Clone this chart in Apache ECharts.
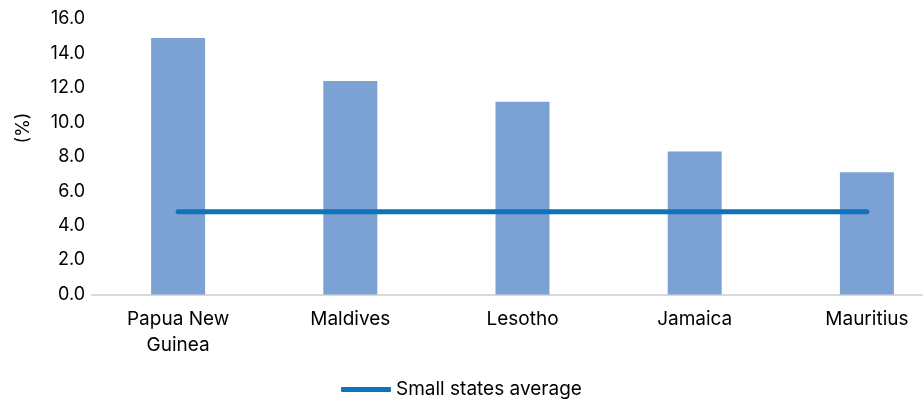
<!DOCTYPE html>
<html>
<head>
<meta charset="utf-8">
<script src="https://cdn.jsdelivr.net/npm/echarts@6/dist/echarts.min.js"></script>
<style>
  html, body { margin: 0; padding: 0; background: #fff; overflow: hidden; width: 923px; height: 399px; }
  /* the plot area runs past the right edge of the page, so the canvas is wider than the view */
  #chart { width: 953px; height: 399px; }
</style>
</head>
<body>
<div id="chart"></div>
<script>
// Countries shown on the category axis
const countries = ['Papua New\nGuinea', 'Maldives', 'Lesotho', 'Jamaica', 'Mauritius'];
// Country values (%)
const countryValues = [14.9, 12.4, 11.2, 8.3, 7.1];
// Small states average (%), repeated across categories
const smallStatesAverage = [4.8, 4.8, 4.8, 4.8, 4.8];
// Y axis range and step
const yMin = 0, yMax = 16, yStep = 2;

const font = 'Inter, "Noto Sans", sans-serif';
const chart = echarts.init(document.getElementById('chart'), null, { renderer: 'canvas' });

chart.setOption({
  animation: false,
  textStyle: { fontFamily: font },
  grid: { left: 92, top: 19, right: 0, bottom: 104.5, containLabel: false },
  legend: {
    top: 375,
    left: 336,
    itemWidth: 50,
    itemHeight: 5,
    icon: 'roundRect',
    textStyle: { fontSize: 19, color: '#000', fontFamily: font },
    data: [{ name: 'Small states average' }]
  },
  graphic: [{
    type: 'text',
    x: 24,
    y: 128,
    rotation: Math.PI / 2,
    style: {
      text: '(%)',
      fontSize: 18,
      fontFamily: font,
      fill: '#000',
      align: 'center',
      verticalAlign: 'middle'
    }
  }],
  xAxis: {
    type: 'category',
    data: countries,
    axisLine: { show: true, lineStyle: { color: '#d9d9d9', width: 2 } },
    axisTick: { show: false },
    axisLabel: { fontSize: 19, color: '#000', lineHeight: 26, margin: 12, interval: 0 }
  },
  yAxis: {
    type: 'value',
    min: yMin,
    max: yMax,
    interval: yStep,
    splitLine: { show: false },
    axisLine: { show: false },
    axisTick: { show: false },
    axisLabel: {
      fontSize: 18,
      color: '#000',
      margin: 7,
      formatter: v => v.toFixed(1)
    }
  },
  series: [
    {
      name: 'Country',
      type: 'bar',
      data: countryValues,
      barWidth: 54,
      itemStyle: { color: '#7CA2D4' }
    },
    {
      name: 'Small states average',
      type: 'line',
      data: smallStatesAverage,
      symbol: 'none',
      lineStyle: { color: '#0E73B8', width: 5, cap: 'round' },
      itemStyle: { color: '#0E73B8' },
      z: 5
    }
  ]
});
</script>
</body>
</html>
